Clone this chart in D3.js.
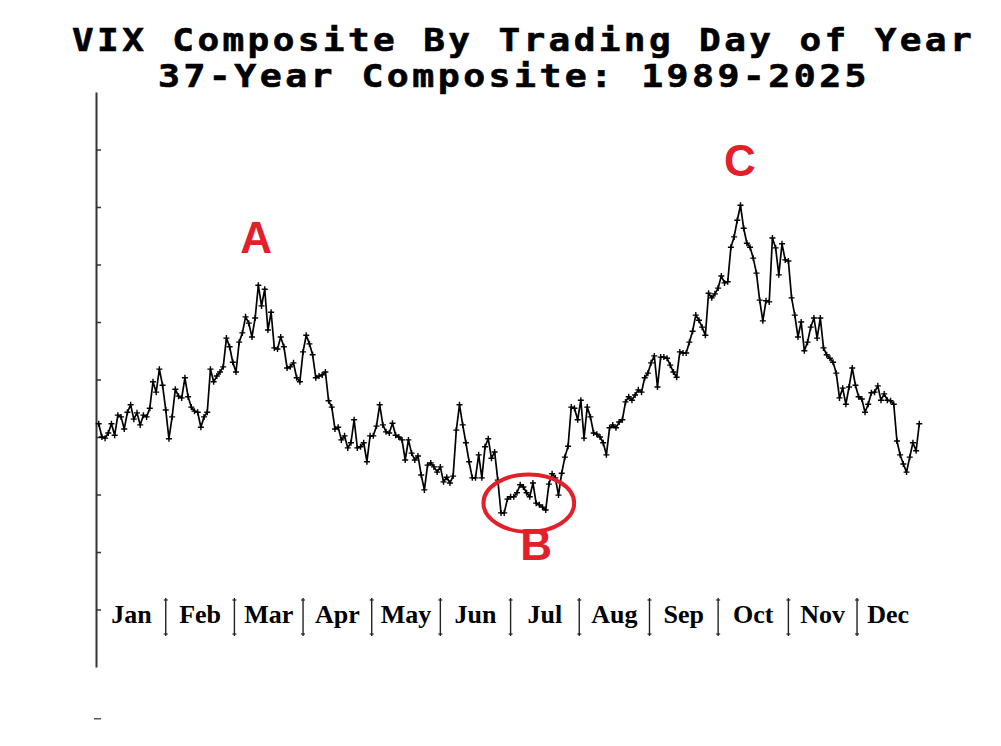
<!DOCTYPE html>
<html><head><meta charset="utf-8">
<script src="https://cdn.jsdelivr.net/npm/d3@7"></script>
<style>body{margin:0;background:#fff}svg{display:block;background:#fff}</style>
</head><body>
<svg id="c" width="1001" height="746"></svg>
<script>
// ---- data ----
const titleLines = ["VIX Composite By Trading Day of Year", "37-Year Composite: 1989-2025"];
const months = ["Jan","Feb","Mar","Apr","May","Jun","Jul","Aug","Sep","Oct","Nov","Dec"];
// month boundaries, in trading-day index units of the series
const monthBreaks = [21, 42.5, 64, 85.5, 107, 129, 150.5, 172.5, 194, 216, 237.5];
const yTicks = [11, 12, 13, 14, 15, 16, 17, 18, 19];
const vix = [
 14.23,14.00,13.98,14.07,14.23,14.03,14.38,14.35,14.14,14.43,14.56,14.31,14.42,14.21,14.38,14.35,14.50,14.96,14.78,15.18,14.90,14.47,13.97,14.35,14.83,14.71,14.68,15.03,14.70,14.52,14.45,14.43,14.17,14.35,14.43,15.18,14.96,15.06,15.13,15.22,15.72,15.57,15.30,15.13,15.65,15.81,
 16.09,15.98,15.74,16.07,16.64,16.28,16.57,15.86,16.17,15.55,15.53,15.74,15.57,15.20,15.22,15.29,15.03,14.96,15.48,15.77,15.62,15.43,15.03,15.06,15.08,15.13,14.63,14.52,14.14,14.17,13.95,14.02,13.81,13.90,14.30,13.81,13.83,13.90,13.57,14.02,14.02,14.19,14.56,14.21,14.09,
 14.07,14.24,14.03,14.00,13.95,13.60,13.95,13.72,13.60,13.67,13.34,13.08,13.51,13.55,13.48,13.39,13.48,13.22,13.30,13.20,13.32,14.12,14.56,14.21,13.90,13.57,13.29,13.29,13.69,13.29,13.83,13.97,13.63,13.74,13.25,12.68,12.68,12.92,12.96,12.96,13.03,13.17,13.13,13.03,
 12.96,13.20,12.85,12.82,12.78,12.73,13.18,13.36,13.29,12.99,13.37,13.65,13.84,14.52,14.50,14.30,14.64,13.98,14.52,14.35,14.07,14.05,14.00,13.90,13.69,14.16,14.21,14.16,14.26,14.30,14.61,14.70,14.64,14.73,14.82,14.78,15.03,15.11,15.29,15.41,14.87,15.39,15.39,15.37,15.25,15.13,15.04,15.48,
 15.46,15.46,15.65,15.84,16.12,16.03,15.91,15.77,16.50,16.42,16.49,16.59,16.80,16.68,16.70,17.30,17.48,17.77,18.03,17.63,17.37,17.30,17.11,16.85,16.38,16.02,16.37,16.35,17.46,17.29,16.82,17.36,17.08,17.06,16.42,16.12,15.74,16.00,15.50,15.65,15.91,16.07,15.72,16.07,15.55,15.43,
 15.37,15.30,15.11,14.68,14.85,14.57,14.87,15.20,14.90,14.70,14.66,14.43,14.57,14.77,14.78,14.89,14.64,14.75,14.64,14.63,14.57,13.93,13.69,13.53,13.39,13.65,13.90,13.76,14.23
];
const notes = [
  {label: "A", day: 49.3, value: 17.2},
  {label: "B", day: 137.0, value: 11.86},
  {label: "C", day: 200.8, value: 18.54}
];
const lowCircle = {day: 134.7, value: 12.85, halfDays: 14.2, halfValue: 0.5};

// ---- layout ----
const svg = d3.select("#c");
const W = 1001, H = 746;
const x = d3.scaleLinear().domain([0, vix.length - 1]).range([98.7, 919.3]);
const y = d3.scaleLinear().domain([10, 20]).range([667, 92]);
const red = "#e3202a";

svg.append("rect").attr("width", W).attr("height", H).attr("fill", "#fff");

// title
const tFont = "'DejaVu Sans Mono', 'Liberation Mono', monospace";
[[72, 51, 903], [158, 87, 712]].forEach((p, i) => {
  svg.append("text").attr("x", p[0]).attr("y", p[1]).attr("textLength", p[2])
    .attr("lengthAdjust", "spacingAndGlyphs")
    .attr("font-family", tFont).attr("font-weight", "bold").attr("font-size", 32)
    .attr("fill", "#000").attr("stroke", "#000").attr("stroke-width", 0.6)
    .attr("letter-spacing", 3)
    .text(titleLines[i]);
});

// left axis
const axisG = svg.append("g").attr("transform", "translate(96,0)")
  .call(d3.axisRight(y).tickValues(yTicks).tickSize(5).tickSizeOuter(0).tickFormat(""));
axisG.select(".domain").attr("stroke", "#333").attr("stroke-width", 2);
axisG.selectAll(".tick line").attr("stroke", "#333").attr("stroke-width", 1.5);
svg.append("line").attr("x1", 94).attr("x2", 101).attr("y1", y(9.1)).attr("y2", y(9.1))
  .attr("stroke", "#555").attr("stroke-width", 1.5);

// month separators & labels
const sepTop = 598, sepBot = 636;
const sepG = svg.append("g");
monthBreaks.forEach(b => {
  const xx = x(b);
  sepG.append("line").attr("x1", xx).attr("x2", xx).attr("y1", sepTop).attr("y2", sepBot)
    .attr("stroke", "#222").attr("stroke-width", 1.4);
  [sepTop + 2, sepBot - 2].forEach(yy => sepG.append("line").attr("x1", xx - 2).attr("x2", xx + 2)
    .attr("y1", yy).attr("y2", yy).attr("stroke", "#222").attr("stroke-width", 1.2));
});
const edges = [x.invert(97)].concat(monthBreaks, [vix.length - 1]);
months.forEach((m, i) => {
  const cx = (x(edges[i]) + x(edges[i + 1])) / 2;
  svg.append("text").attr("x", cx).attr("y", 623).attr("text-anchor", "middle")
    .attr("font-family", "'Liberation Serif', 'Times New Roman', serif").attr("font-weight", "bold")
    .attr("font-size", 26).attr("fill", "#000").text(m);
});

// series line + markers
const line = d3.line().x((d, i) => x(i)).y(d => y(d));
svg.append("path").datum(vix).attr("d", line).attr("fill", "none")
  .attr("stroke", "#000").attr("stroke-width", 1.7).attr("stroke-linejoin", "round");
svg.append("g").selectAll("path").data(vix).join("path")
  .attr("transform", (d, i) => `translate(${x(i)},${y(d)})`)
  .attr("d", "M-3,0H3M0,-3V3").attr("stroke", "#000").attr("stroke-width", 1.4);

// annotations
svg.append("ellipse")
  .attr("cx", x(lowCircle.day)).attr("cy", y(lowCircle.value))
  .attr("rx", x(lowCircle.day + lowCircle.halfDays) - x(lowCircle.day))
  .attr("ry", y(lowCircle.value - lowCircle.halfValue) - y(lowCircle.value))
  .attr("fill", "none").attr("stroke", red).attr("stroke-width", 4);
svg.selectAll("text.note").data(notes).join("text").attr("class", "note")
  .attr("x", d => x(d.day)).attr("y", d => y(d.value)).attr("text-anchor", "middle")
  .attr("font-family", "'Liberation Sans', Arial, sans-serif").attr("font-weight", "bold")
  .attr("font-size", 44).attr("fill", red).text(d => d.label);
</script>
</body></html>
